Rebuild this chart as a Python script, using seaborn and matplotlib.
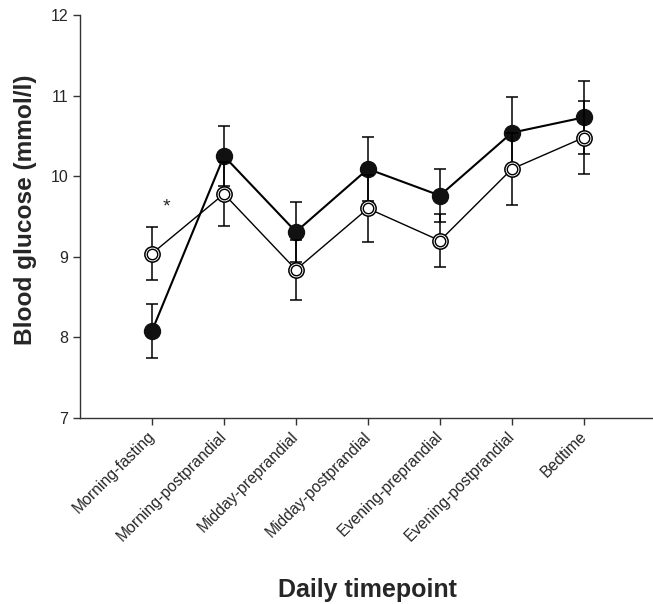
"""
Blood glucose profile over daily timepoints (two groups, mean +/- SE)
"""
import numpy as np
import pandas as pd
import matplotlib
matplotlib.use('Agg')
import matplotlib.pyplot as plt
import matplotlib.transforms as mtrans
import seaborn as sns

timepoints = ['Morning-fasting', 'Morning-postprandial', 'Midday-preprandial',
              'Midday-postprandial', 'Evening-preprandial', 'Evening-postprandial',
              'Bedtime']
filled_mean = [8.08, 10.25, 9.31, 10.09, 9.76, 10.54, 10.73]
filled_err = [0.33, 0.37, 0.37, 0.40, 0.33, 0.44, 0.45]
open_mean = [9.04, 9.78, 8.84, 9.60, 9.20, 10.09, 10.48]
open_err = [0.33, 0.40, 0.37, 0.42, 0.33, 0.45, 0.45]
star_pos = (0.2, 9.62)

sns.set_style('ticks')
plt.rcParams['font.family'] = ['Liberation Sans', 'DejaVu Sans']

x = np.arange(len(timepoints))
df = pd.DataFrame({
    'pos': np.concatenate([x, x]),
    'glucose': filled_mean + open_mean,
    'group': ['filled'] * len(x) + ['open'] * len(x),
})

fig = plt.figure(figsize=(6.53, 6.04), dpi=100)
ax = fig.add_axes([80 / 653, 186 / 604, 573 / 653, 403 / 604])

# filled series (drawn first)
sns.lineplot(data=df[df.group == 'filled'], x='pos', y='glucose', ax=ax,
             color='black', lw=1.5, zorder=2, legend=False)
ax.errorbar(x, filled_mean, yerr=filled_err, fmt='none', ecolor='black',
            elinewidth=1.1, capsize=4.5, capthick=1.1, zorder=2)
ax.plot(x, filled_mean, 'o', ms=11.5, mfc='#111111', mec='#111111', zorder=3)

# open series on top
sns.lineplot(data=df[df.group == 'open'], x='pos', y='glucose', ax=ax,
             color='black', lw=1.0, zorder=4, legend=False)
ax.errorbar(x, open_mean, yerr=open_err, fmt='none', ecolor='black',
            elinewidth=1.1, capsize=4.5, capthick=1.1, zorder=4)
ax.plot(x, open_mean, 'o', ms=11, mfc='white', mec='black', mew=1.1, zorder=5)
ax.plot(x, open_mean, 'o', ms=7.5, mfc='white', mec='black', mew=1.0, zorder=6)

ax.text(star_pos[0], star_pos[1], '*', fontsize=14, ha='center', va='center')

ax.set_xlim(-1, 6.96)
ax.set_ylim(7, 12)
ax.set_yticks([7, 8, 9, 10, 11, 12])
ax.set_xticks(x)
ax.set_xticklabels(timepoints, rotation=45, ha='right', rotation_mode='anchor',
                   fontsize=11.3)
ax.tick_params(axis='y', labelsize=11.5)
ax.tick_params(direction='out', length=5, width=1, color='#333333')
sns.despine(ax=ax)
for s in ['left', 'bottom']:
    ax.spines[s].set_linewidth(1)
    ax.spines[s].set_color('#333333')

ax.set_xlabel('Daily timepoint', fontsize=18, fontweight='bold')
ax.xaxis.set_label_coords(0.502, -0.397)
ax.set_ylabel('Blood glucose (mmol/l)', fontsize=17.6, fontweight='bold')
ax.yaxis.set_label_coords(-0.075, 0.516)

# nudge the rotated tick labels a little to the left, as in the original
fig.canvas.draw()
shift = mtrans.ScaledTranslation(-5 / 100, 1 / 100, fig.dpi_scale_trans)
for tick in ax.xaxis.get_major_ticks():
    tick.label1.set_transform(tick.label1.get_transform() + shift)

fig.savefig('out.png', dpi=100)
plt.close(fig)
